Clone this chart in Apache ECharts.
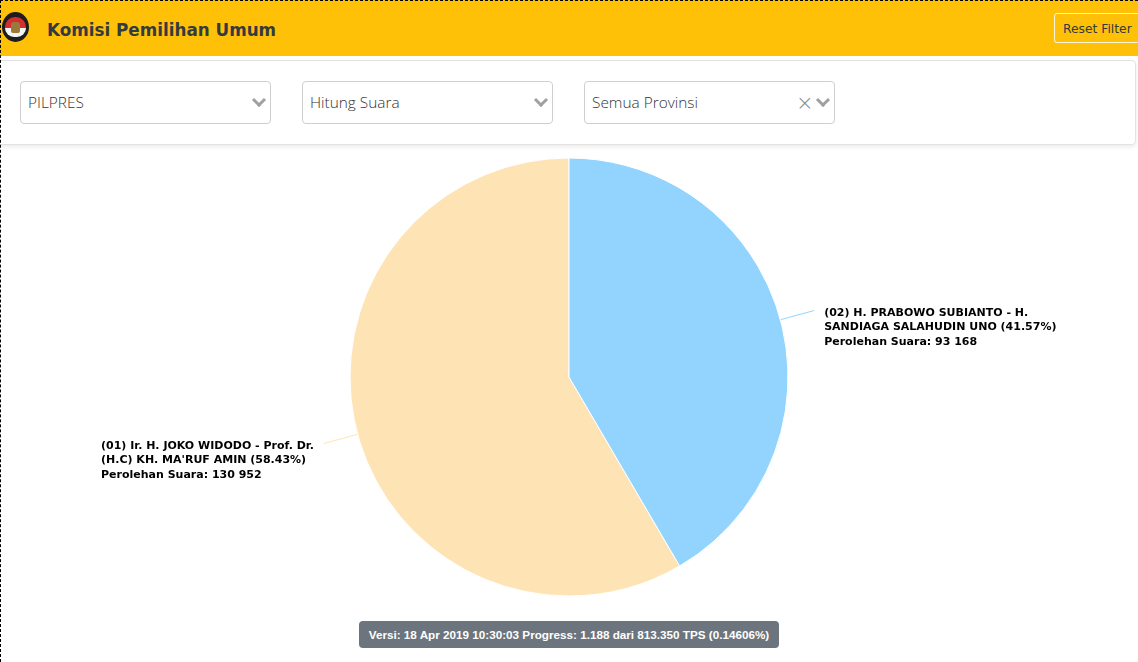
<!DOCTYPE html>
<html>
<head>
<meta charset="utf-8">
<script src="https://cdn.jsdelivr.net/npm/echarts@6/dist/echarts.min.js"></script>
<style>
  html, body { margin: 0; padding: 0; width: 1138px; height: 662px; overflow: hidden; background: #fff; }
  body { position: relative; }
  #chart { position: absolute; left: 0; top: 0; width: 1138px; height: 662px; z-index: 0; }
  .frame-left { position: absolute; left: 0; top: 0; width: 0; height: 662px; border-left: 1px dashed #000; z-index: 5; }
  .frame-top { position: absolute; left: 0; top: 0; width: 1138px; height: 0; border-top: 1px dashed #000; z-index: 5; }
  #header { position: absolute; left: 0; top: 0; width: 1138px; height: 56px; background: #ffc107; z-index: 2; }
  #header .title { position: absolute; left: 47px; top: 20px; font-family: "DejaVu Sans", sans-serif; font-weight: bold; font-size: 16.8px; color: #343a40; }
  #logo { position: absolute; left: 2px; top: 12px; width: 27px; height: 30px; border-radius: 50%; background: #1d1d1d; overflow: hidden; }
  #logo .red { position: absolute; left: 3px; top: 5px; width: 21px; height: 11px; background: #d32f2f; border-radius: 10px 10px 0 0; }
  #logo .white { position: absolute; left: 3px; top: 16px; width: 21px; height: 9px; background: #f4f4f4; border-radius: 0 0 10px 10px; }
  #logo .bird { position: absolute; left: 9px; top: 10px; width: 9px; height: 11px; background: #9a7a3a; border-radius: 3px 3px 2px 2px; }
  #reset { position: absolute; left: 1054px; top: 13px; width: 90px; height: 30px; border: 1px solid #fff4d6; border-radius: 3px; font-family: "DejaVu Sans", sans-serif; font-size: 12.3px; color: #343a40; line-height: 30px; padding-left: 8px; box-sizing: border-box; }
  #filters { position: absolute; left: -3px; top: 60px; width: 1139px; height: 85px; background: #fff; border: 1px solid #e3e3e3; border-radius: 4px; box-shadow: 0 2px 4px rgba(0,0,0,0.08); z-index: 2; box-sizing: border-box; }
  .sel { position: absolute; top: 81px; width: 251px; height: 43px; border: 1px solid #cfcfcf; border-radius: 4px; box-sizing: border-box; background: #fff; z-index: 3; font-family: "Open Sans", sans-serif; font-size: 15.4px; color: #333; font-weight: 300; }
  .sel .txt { position: absolute; left: 7px; top: 10px; }
  .chev { position: absolute; top: 13px; width: 7px; height: 7px; border-right: 3px solid #a0a0a0; border-bottom: 3px solid #a0a0a0; transform: rotate(45deg); }
  .clear { position: absolute; left: 211px; top: 9px; font-family: "DejaVu Sans", sans-serif; font-size: 21px; color: #8a8a8a; }
  #badge { position: absolute; left: 359px; top: 621px; width: 420px; height: 27px; background: #6c757d; border-radius: 4px; color: #fff; font-family: "Liberation Sans", Arial, sans-serif; font-weight: bold; font-size: 11.7px; line-height: 27px; text-align: center; z-index: 2; white-space: nowrap; }
</style>
</head>
<body>
<div id="chart"></div>
<div id="header">
  <div id="logo"><div class="red"></div><div class="white"></div><div class="bird"></div></div>
  <div class="title">Komisi Pemilihan Umum</div>
  <div id="reset">Reset Filter</div>
</div>
<div id="filters"></div>
<div class="sel" style="left:20px"><span class="txt">PILPRES</span><div class="chev" style="left:233px"></div></div>
<div class="sel" style="left:302px"><span class="txt">Hitung Suara</span><div class="chev" style="left:233px"></div></div>
<div class="sel" style="left:584px"><span class="txt">Semua Provinsi</span><span class="clear">×</span><div class="chev" style="left:233px"></div></div>
<div id="badge">Versi: 18 Apr 2019 10:30:03 Progress: 1.188 dari 813.350 TPS (0.14606%)</div>
<div class="frame-left"></div>
<div class="frame-top"></div>
<script>
// ---- data ----
const candidates = [
  "(01) Ir. H. JOKO WIDODO - Prof. Dr. (H.C) KH. MA'RUF AMIN",
  "(02) H. PRABOWO SUBIANTO - H. SANDIAGA SALAHUDIN UNO"
];
const votes = [130952, 93168];
const sliceColors = ['#fee4b5', '#92d4fe'];
const valueLabel = 'Perolehan Suara';

const LABEL_FAMILY = 'DejaVu Sans';
const LABEL_SIZE = 11;
const MAX_LABEL_W = 236;

const ctx = document.createElement('canvas').getContext('2d');
ctx.font = 'bold ' + LABEL_SIZE + 'px "' + LABEL_FAMILY + '"';
function wrap(text) {
  const words = text.split(' ');
  const lines = [];
  let cur = '';
  words.forEach(w => {
    const t = cur ? cur + ' ' + w : w;
    if (ctx.measureText(t).width > MAX_LABEL_W && cur) { lines.push(cur); cur = w; }
    else cur = t;
  });
  if (cur) lines.push(cur);
  return lines;
}
function fmtNum(v) {
  return String(v).replace(/\B(?=(\d{3})+(?!\d))/g, ' ');
}

const chart = echarts.init(document.getElementById('chart'), null, { renderer: 'canvas' });
chart.setOption({
  animation: false,
  series: [{
    type: 'pie',
    center: [569, 377],
    radius: [0, 219],
    startAngle: 90,
    clockwise: false,
    data: candidates.map((n, i) => ({ name: n, value: votes[i], itemStyle: { color: sliceColors[i] } })),
    itemStyle: { borderColor: '#fff', borderWidth: 1 },
    label: {
      show: true,
      position: 'outside',
      distanceToLabelLine: 10,
      fontFamily: LABEL_FAMILY,
      fontWeight: 'bold',
      fontSize: LABEL_SIZE,
      color: '#000',
      lineHeight: 14.5,
      padding: [34, 0, 0, 0],
      formatter: function (p) {
        const lines = wrap(p.name + ' (' + p.percent.toFixed(2) + '%)');
        lines.push(valueLabel + ': ' + fmtNum(p.value));
        return lines.map(l => '{a|' + l + '}').join('\n');
      },
      rich: {
        a: { align: 'left', fontFamily: LABEL_FAMILY, fontWeight: 'bold', fontSize: LABEL_SIZE, color: '#000', lineHeight: 14.5 }
      }
    },
    labelLine: {
      show: true,
      length: 35,
      length2: 0,
      lineStyle: { width: 1 }
    },
    emphasis: { disabled: true }
  }]
});
</script>
</body>
</html>
